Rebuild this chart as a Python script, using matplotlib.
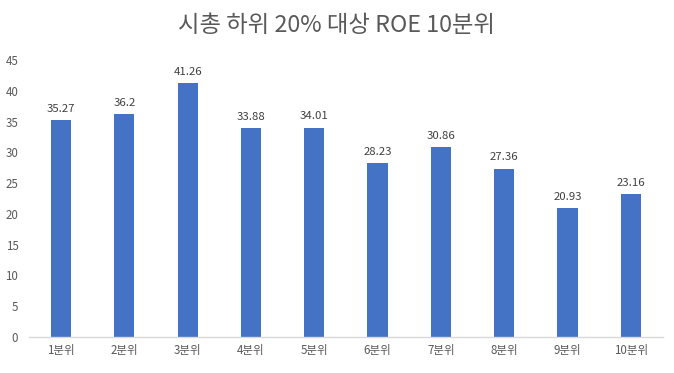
import matplotlib
matplotlib.use("Agg")
import matplotlib.pyplot as plt

plt.rcParams['font.family'] = ['Noto Sans CJK KR', 'DejaVu Sans']

categories = ["1분위", "2분위", "3분위", "4분위", "5분위", "6분위", "7분위", "8분위", "9분위", "10분위"]
values = [35.27, 36.2, 41.26, 33.88, 34.01, 28.23, 30.86, 27.36, 20.93, 23.16]
value_labels = ["35.27", "36.2", "41.26", "33.88", "34.01", "28.23", "30.86", "27.36", "20.93", "23.16"]
title = "시총 하위 20% 대상 ROE 10분위"

W, H = 674, 373
fig = plt.figure(figsize=(W / 100, H / 100), dpi=100)
left, right = 29.4 / W, 662.5 / W
bottom, top = (H - 337) / H, (H - 60) / H
ax = fig.add_axes([left, bottom, right - left, top - bottom])

x = list(range(len(categories)))
bars = ax.bar(x, values, width=0.32, color="#4472C4", zorder=2)
ax.set_xlim(-0.5, len(categories) - 0.5)
ax.set_ylim(0, 45)
ax.set_yticks(range(0, 46, 5))
ax.set_xticks(x)
ax.set_xticklabels(categories)

for s in ["top", "right", "left"]:
    ax.spines[s].set_visible(False)
ax.spines["bottom"].set_color("#D9D9D9")
ax.spines["bottom"].set_linewidth(1.0)
ax.tick_params(axis="both", length=0, labelsize=8.3, colors="#595959")
ax.tick_params(axis="x", pad=5)
ax.tick_params(axis="y", pad=8)

for xi, v, lab in zip(x, values, value_labels):
    ax.annotate(lab, (xi, v), xytext=(0, 4.5), textcoords="offset points",
                ha="center", va="bottom", fontsize=8.2, color="#404040")

fig.text(0.5, 1 - 25 / H, title, ha="center", va="center", fontsize=16.8, color="#595959")

fig.savefig("out.png", dpi=100, facecolor="white")
